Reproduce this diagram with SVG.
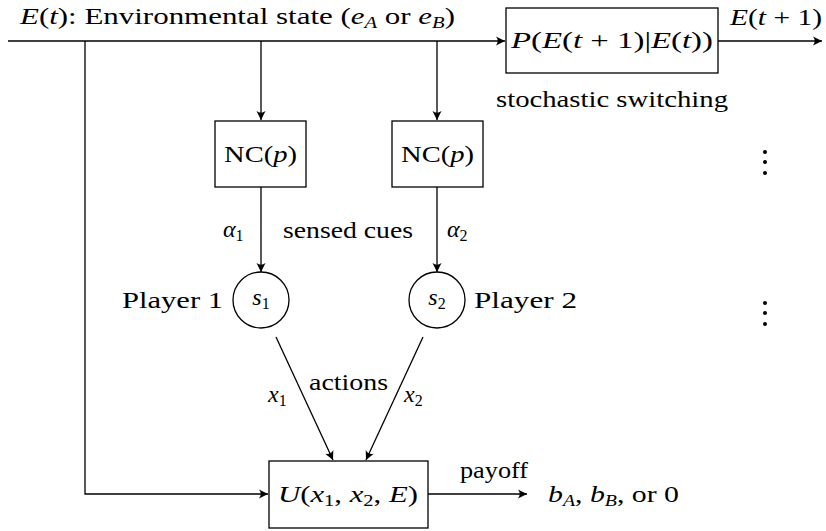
<svg xmlns="http://www.w3.org/2000/svg" width="826" height="531" viewBox="0 0 826 531">
<style>
.t{font-family:'Liberation Serif','DejaVu Serif',serif;font-size:24px;fill:#000}
.i{font-style:italic}
.s{font-size:16px}
.box{fill:#fff;stroke:#000;stroke-width:1.3}
.ln{fill:none;stroke:#000;stroke-width:1.3}
</style>
<defs>
<marker id="ah" viewBox="-10 -6 12 12" refX="0" refY="0" markerWidth="12" markerHeight="12" markerUnits="userSpaceOnUse" orient="auto">
<path d="M0,0 L-9,-4.5 Q-5.5,0 -9,4.5 Z" fill="#000"/>
</marker>
</defs>
<g id="connectors">
<path class="ln" d="M8,41 H505" marker-end="url(#ah)"/>
<path class="ln" d="M718,41 H822" marker-end="url(#ah)"/>
<path class="ln" d="M261,41 V120" marker-end="url(#ah)"/>
<path class="ln" d="M437,41 V120" marker-end="url(#ah)"/>
<path class="ln" d="M85,41 V494 H268" marker-end="url(#ah)"/>
<path class="ln" d="M261,187 V272" marker-end="url(#ah)"/>
<path class="ln" d="M437,187 V272" marker-end="url(#ah)"/>
<path class="ln" d="M276,337 L333,460" marker-end="url(#ah)"/>
<path class="ln" d="M423,337 L366,460" marker-end="url(#ah)"/>
<path class="ln" d="M428,494 H527" marker-end="url(#ah)"/>
</g>
<g id="env-label">
<text class="t" x="20" y="24" textLength="435" lengthAdjust="spacingAndGlyphs"><tspan class="i">E</tspan>(<tspan class="i">t</tspan>): Environmental state (<tspan class="i">e</tspan><tspan class="i s" dy="4">A</tspan><tspan dy="-4"> or </tspan><tspan class="i">e</tspan><tspan class="i s" dy="4">B</tspan><tspan dy="-4">)</tspan></text>
</g>
<g id="switch">
<rect class="box" x="506" y="8" width="212" height="65"/>
<text class="t" x="511" y="48" textLength="202" lengthAdjust="spacingAndGlyphs"><tspan class="i">P</tspan>(<tspan class="i">E</tspan>(<tspan class="i">t</tspan> + 1)|<tspan class="i">E</tspan>(<tspan class="i">t</tspan>))</text>
<text class="t" x="496" y="107" textLength="232" lengthAdjust="spacingAndGlyphs">stochastic switching</text>
</g>
<g id="out-label">
<text class="t" x="730" y="25" textLength="92" lengthAdjust="spacingAndGlyphs"><tspan class="i">E</tspan>(<tspan class="i">t</tspan> + 1)</text>
</g>
<g id="nc1">
<rect class="box" x="215" y="121" width="91" height="66"/>
<text class="t" x="224" y="162" textLength="73" lengthAdjust="spacingAndGlyphs">NC(<tspan class="i">p</tspan>)</text>
</g>
<g id="nc2">
<rect class="box" x="392" y="121" width="91" height="66"/>
<text class="t" x="401" y="162" textLength="73" lengthAdjust="spacingAndGlyphs">NC(<tspan class="i">p</tspan>)</text>
</g>
<g id="cue-labels">
<text class="t i" x="223" y="237">α<tspan class="s" font-style="normal" dy="4">1</tspan></text>
<text class="t" x="283" y="238" textLength="130" lengthAdjust="spacingAndGlyphs">sensed cues</text>
<text class="t i" x="447" y="237">α<tspan class="s" font-style="normal" dy="4">2</tspan></text>
</g>
<g id="player1">
<circle class="box" cx="261" cy="300" r="28"/>
<text class="t" x="261" y="305" text-anchor="middle"><tspan class="i">s</tspan><tspan class="s" dy="4">1</tspan></text>
<text class="t" x="122" y="308" textLength="101" lengthAdjust="spacingAndGlyphs">Player 1</text>
</g>
<g id="player2">
<circle class="box" cx="437" cy="300" r="28"/>
<text class="t" x="437" y="305" text-anchor="middle"><tspan class="i">s</tspan><tspan class="s" dy="4">2</tspan></text>
<text class="t" x="474" y="308" textLength="103" lengthAdjust="spacingAndGlyphs">Player 2</text>
</g>
<g id="action-labels">
<text class="t i" x="268" y="402">x<tspan class="s" font-style="normal" dy="4">1</tspan></text>
<text class="t" x="309" y="390" textLength="79" lengthAdjust="spacingAndGlyphs">actions</text>
<text class="t i" x="404" y="402">x<tspan class="s" font-style="normal" dy="4">2</tspan></text>
</g>
<g id="utility">
<rect class="box" x="269" y="461" width="159" height="67"/>
<text class="t" x="278" y="502" textLength="140" lengthAdjust="spacingAndGlyphs"><tspan class="i">U</tspan>(<tspan class="i">x</tspan><tspan class="s" dy="4">1</tspan><tspan dy="-4">, </tspan><tspan class="i">x</tspan><tspan class="s" dy="4">2</tspan><tspan dy="-4">, </tspan><tspan class="i">E</tspan>)</text>
</g>
<g id="payoff">
<text class="t" x="460" y="478" textLength="68" lengthAdjust="spacingAndGlyphs">payoff</text>
<text class="t" x="548" y="502" textLength="131" lengthAdjust="spacingAndGlyphs"><tspan class="i">b</tspan><tspan class="i s" dy="4">A</tspan><tspan dy="-4">, </tspan><tspan class="i">b</tspan><tspan class="i s" dy="4">B</tspan><tspan dy="-4">, or 0</tspan></text>
</g>
<g id="dots" fill="#000">
<circle cx="765" cy="152" r="2"/>
<circle cx="765" cy="162" r="2"/>
<circle cx="765" cy="173" r="2"/>
<circle cx="765" cy="303" r="2"/>
<circle cx="765" cy="313" r="2"/>
<circle cx="765" cy="324" r="2"/>
</g>
</svg>
